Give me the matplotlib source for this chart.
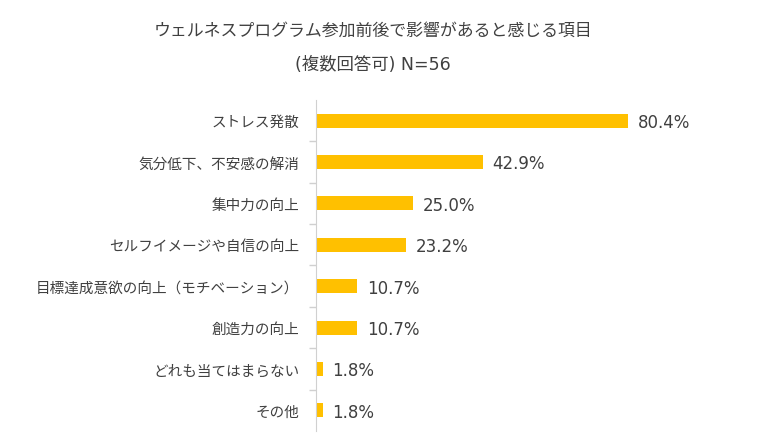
import matplotlib.pyplot as plt
from matplotlib.ticker import FixedLocator

plt.rcParams["font.family"] = ["Noto Sans CJK JP", "DejaVu Sans"]

# データ
categories = [
    "ストレス発散",
    "気分低下、不安感の解消",
    "集中力の向上",
    "セルフイメージや自信の向上",
    "目標達成意欲の向上（モチベーション）",
    "創造力の向上",
    "どれも当てはまらない",
    "その他",
]
values = [80.4, 42.9, 25.0, 23.2, 10.7, 10.7, 1.8, 1.8]

title_line1 = "ウェルネスプログラム参加前後で影響があると感じる項目"
title_line2 = "(複数回答可) N=56"

bar_color = "#FFC000"
text_color = "#404040"
latin_first = ["DejaVu Sans", "Noto Sans CJK JP"]

fig = plt.figure(figsize=(7.8, 4.39), dpi=100)
ax = fig.add_axes([0.405, 0.016, 0.498, 0.754])

y = list(range(len(categories)))
ax.barh(y, values, height=0.34, color=bar_color)

for yi, v in zip(y, values):
    ax.annotate(f"{v:.1f}%", (v, yi), xytext=(7, -1), textcoords="offset points",
                va="center", ha="left", fontsize=12, color=text_color,
                family=latin_first)

ax.set_xlim(0, 100)
ax.set_ylim(len(categories) - 0.5, -0.5)
ax.set_yticks(y)
ax.set_yticklabels(categories, fontsize=10.5, color=text_color)
ax.yaxis.set_minor_locator(FixedLocator([i + 0.5 for i in range(len(categories) - 1)]))
ax.tick_params(axis="y", which="major", length=0, pad=12)
ax.tick_params(axis="y", which="minor", length=5, color="#d0d0d0", width=1)
ax.set_xticks([])

for s in ["top", "right", "bottom"]:
    ax.spines[s].set_visible(False)
ax.spines["left"].set_color("#d0d0d0")

fig.text(0.478, 0.93, title_line1, ha="center", va="center", fontsize=12.2, color=text_color)
fig.text(0.478, 0.853, title_line2, ha="center", va="center", fontsize=12.5,
         color=text_color, family=latin_first)

fig.savefig("out.png", dpi=100)
